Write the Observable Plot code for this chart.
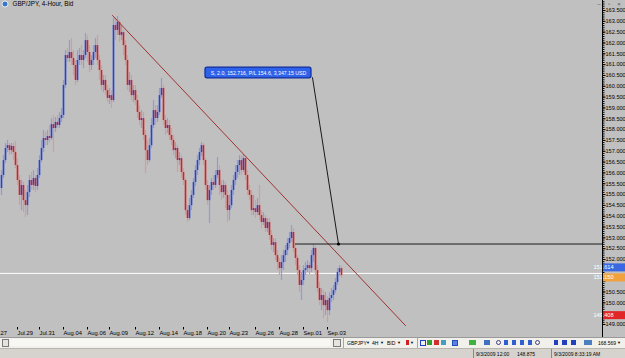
<!DOCTYPE html>
<html><head><meta charset="utf-8">
<script src="https://cdn.jsdelivr.net/npm/d3@7"></script>
<script src="https://cdn.jsdelivr.net/npm/@observablehq/plot@0.6"></script>
<style>
body{margin:0;background:#d4d0c8;font-family:"Liberation Sans",Arial,sans-serif;}
#wrap{position:relative;width:625px;height:358px;overflow:hidden;background:#c0c0c0}
#chart svg{display:block}
.row1{position:absolute;left:0;top:337px;width:625px;height:10px;background:#f1f0ea;border-top:1px solid #9a9a9a;}
.row2{position:absolute;left:0;top:348px;width:625px;height:10px;background:#d6d3ce;border-top:1px solid #b8b5ae;}
.s{position:absolute;font-size:5px;line-height:8px;color:#000;white-space:nowrap}
.a{position:absolute;font-size:4px;line-height:8px;color:#000}
.ic{position:absolute;width:5px;height:5px;top:2px}
.sep{position:absolute;top:0;width:1px;height:10px;background:#a8a6a0}
</style></head><body>
<div id="wrap">
<div id="chart"></div>
<div class="row1">
  <div style="position:absolute;left:2px;top:1px;width:5px;height:6px;border:1px solid #7a7a7a;background:#e4e3de"></div>
  <div style="position:absolute;left:10px;top:1px;width:320px;height:7px;background:#f7f7f4"></div>
  <div style="position:absolute;left:333px;top:1px;width:6px;height:6px;border:1px solid #7a7a7a;background:#e4e3de"></div>
  <div class="sep" style="left:343px"></div>
  <span class="s" style="left:347px;top:1px">GBPJPY</span><span class="a" style="left:366px;top:1px">▼</span>
  <span class="s" style="left:372px;top:1px">4H</span><span class="a" style="left:380px;top:1px">▼</span>
  <span class="s" style="left:387px;top:1px">BID</span><span class="a" style="left:397px;top:1px">▼</span>
  <div class="ic" style="left:406px;background:#d02020;width:3px"></div><span class="a" style="left:410px;top:1px">▼</span>
  <div class="sep" style="left:417px"></div>
  <div class="ic" style="left:420px;border:1px solid #2040c0;width:4px;height:4px"></div>
  <div class="ic" style="left:427px;background:#30a030"></div>
  <div class="ic" style="left:434px;background:#d03030"></div>
  <div class="ic" style="left:441px;background:#40a0c0"></div>
  <div class="ic" style="left:452px;border:1px solid #2050c0;width:4px;height:4px;background:#6080e0"></div>
  <div class="ic" style="left:469px;background:#40b040;width:7px"></div>
  <div class="ic" style="left:484px;background:#4070c0;width:6px"></div>
  <div class="ic" style="left:496px;border:1px solid #404080;border-radius:3px;width:3px;height:3px"></div>
  <div class="ic" style="left:504px;background:#3060d0;width:4px"></div>
  <div class="ic" style="left:512px;background:#3060d0;width:4px"></div>
  <div class="ic" style="left:520px;background:#3060d0;width:4px"></div>
  <div class="ic" style="left:528px;background:#3060d0;width:4px"></div>
  <div class="ic" style="left:535px;border:1px solid #404080;border-radius:3px;width:3px;height:3px"></div>
  <div class="ic" style="left:554px;background:#2040c0;width:4px"></div>
  <div class="ic" style="left:562px;background:#2040c0;width:5px"></div>
  <div class="ic" style="left:571px;background:#2040c0;width:5px"></div>
  <div class="ic" style="left:584px;background:#4a80c0;width:8px"></div>
  <span class="s" style="left:598px;top:1px">168.569</span><span class="a" style="left:617px;top:1px">▼</span>
</div>
<div class="row2">
  <div class="sep" style="left:473px;background:#888"></div>
  <span class="s" style="left:476px;top:1px">9/3/2009 12:00</span>
  <span class="s" style="left:517px;top:1px">148.875</span>
  <div class="sep" style="left:551px;background:#888"></div>
  <span class="s" style="left:554px;top:1px">9/3/2009 8:33:19 AM</span>
</div>
</div>
<script>
// ---- data (GBP/JPY 4-hour candles) ----
const open = [155.28,155.88,156.57,157.13,157.26,157.03,157.22,156.94,156.34,155.65,
154.96,155.42,154.72,154.49,155.09,155.65,155.42,155.74,155.37,155.88,
156.57,157.13,157.59,157.50,157.68,157.59,158.23,158.05,158.33,158.19,
158.51,158.65,160.04,161.42,161.28,161.56,161.28,160.96,160.27,161.19,
161.42,161.19,161.42,162.11,161.56,160.96,161.19,161.56,161.88,161.19,
160.73,160.04,160.27,159.80,159.44,159.57,159.34,162.81,162.58,162.95,
162.35,162.48,161.88,161.19,160.04,160.27,159.57,159.80,159.34,158.79,
158.42,158.51,157.73,157.03,156.57,157.26,158.19,158.88,158.51,158.79,
159.57,159.90,158.42,158.05,158.19,157.73,157.50,157.03,157.13,156.57,
156.66,156.02,155.65,154.26,153.89,154.49,154.96,155.56,156.11,156.57,
156.94,157.26,156.57,155.42,154.72,155.19,155.56,155.42,155.88,156.11,
155.42,155.09,155.42,154.96,154.26,154.49,155.19,155.65,156.02,156.34,
156.57,156.11,156.66,155.88,155.19,154.96,154.26,154.35,154.17,154.49,
154.03,153.71,153.89,153.43,153.71,153.11,152.65,152.78,152.18,151.86,
151.58,151.86,152.18,152.42,152.74,152.97,153.25,152.51,152.05,151.49,
150.80,151.03,151.49,151.58,151.72,151.58,152.18,152.51,151.49,150.66,
150.11,150.34,149.87,150.11,149.64,150.20,150.34,150.57,150.94,151.40,
151.58];
const high = [156.11,156.80,157.36,157.50,157.36,157.36,157.36,157.45,156.66,155.88,
155.65,155.56,155.19,155.42,155.88,156.02,156.11,155.88,156.20,156.80,
157.50,157.96,157.87,157.96,158.19,158.51,158.65,158.56,158.65,158.79,
158.97,160.27,161.65,161.75,162.11,162.21,161.65,161.19,161.65,161.75,
161.88,161.65,162.44,162.35,161.88,161.42,161.88,162.21,162.35,161.42,
160.96,160.50,160.50,160.04,159.90,159.80,163.13,163.18,163.22,163.04,
162.81,162.58,162.11,161.42,160.64,160.50,160.04,160.04,159.57,159.11,
158.88,158.79,157.96,157.50,157.59,158.51,159.34,159.11,159.11,159.90,
160.36,160.04,158.65,158.51,158.42,158.05,157.73,157.40,157.26,156.94,
156.80,156.20,155.74,154.49,154.82,155.19,155.74,156.34,156.80,157.13,
157.40,157.36,156.66,155.65,155.42,155.74,155.88,156.11,156.71,156.34,
155.65,155.65,155.56,155.19,154.96,155.42,155.88,156.34,156.57,156.80,
156.80,156.85,156.76,156.11,155.42,155.19,154.96,154.72,154.82,155.42,
154.26,154.17,154.03,153.89,153.89,153.34,152.97,152.97,152.42,152.05,
152.18,152.42,152.65,152.97,153.25,153.57,153.43,152.65,152.18,151.72,
151.40,151.72,151.86,151.95,151.86,152.42,152.69,152.60,151.72,150.94,
150.66,150.57,150.47,150.29,150.47,150.66,150.80,151.12,151.58,151.72,
151.68];
const low = [154.96,155.74,156.43,156.94,156.80,156.85,156.57,156.20,155.42,154.49,
154.26,154.17,153.94,154.03,154.86,155.19,155.19,155.09,155.19,155.74,
156.48,156.94,157.26,157.26,157.40,157.50,156.94,157.87,158.05,158.05,
158.33,158.51,159.90,161.10,161.10,160.96,160.50,160.04,160.17,160.96,
160.96,160.82,161.28,161.10,160.64,160.73,160.96,161.28,160.96,160.27,
159.80,159.71,159.57,159.25,159.16,158.97,159.25,162.11,162.35,162.02,
162.11,161.42,160.96,159.80,159.71,159.34,159.25,159.11,158.51,158.19,
158.05,157.50,155.97,156.34,156.48,157.13,158.05,158.19,158.33,158.65,
159.44,158.19,157.73,157.82,157.50,157.26,156.80,156.66,156.02,156.34,
155.74,155.42,154.03,153.71,153.80,154.26,154.82,155.37,155.88,156.34,
156.76,156.34,155.19,154.49,153.66,154.96,155.19,155.28,155.74,154.96,
154.72,154.82,154.35,153.71,153.80,154.35,154.96,155.42,155.74,155.88,
155.88,156.02,155.65,154.96,154.72,154.03,154.03,153.89,154.03,153.80,
153.43,153.57,153.25,153.25,152.88,152.42,152.32,151.95,151.49,151.26,
151.03,151.49,151.86,152.18,152.51,152.78,152.32,151.72,151.26,150.47,
150.11,150.80,151.26,151.40,151.31,151.40,151.86,151.26,150.47,149.87,
149.64,149.27,149.41,149.09,149.41,150.01,150.11,150.43,150.80,151.21,
151.12];
const close = [155.88,156.57,157.13,157.26,157.03,157.22,156.94,156.34,155.65,154.96,
155.42,154.72,154.49,155.09,155.65,155.42,155.74,155.37,155.88,156.57,
157.13,157.59,157.50,157.68,157.59,158.23,158.05,158.33,158.19,158.51,
158.65,160.04,161.42,161.28,161.56,161.28,160.96,160.27,161.19,161.42,
161.19,161.42,162.11,161.56,160.96,161.19,161.56,161.88,161.19,160.73,
160.04,160.27,159.80,159.44,159.57,159.34,162.81,162.58,162.95,162.35,
162.48,161.88,161.19,160.04,160.27,159.57,159.80,159.34,158.79,158.42,
158.51,157.73,157.03,156.57,157.26,158.19,158.88,158.51,158.79,159.57,
159.90,158.42,158.05,158.19,157.73,157.50,157.03,157.13,156.57,156.66,
156.02,155.65,154.26,153.89,154.49,154.96,155.56,156.11,156.57,156.94,
157.26,156.57,155.42,154.72,155.19,155.56,155.42,155.88,156.11,155.42,
155.09,155.42,154.96,154.26,154.49,155.19,155.65,156.02,156.34,156.57,
156.11,156.66,155.88,155.19,154.96,154.26,154.35,154.17,154.49,154.03,
153.71,153.89,153.43,153.71,153.11,152.65,152.78,152.18,151.86,151.58,
151.86,152.18,152.42,152.74,152.97,153.25,152.51,152.05,151.49,150.80,
151.03,151.49,151.58,151.72,151.58,152.18,152.51,151.49,150.66,150.11,
150.34,149.87,150.11,149.64,150.20,150.34,150.57,150.94,151.40,151.58,
151.26];

const dateTickPos = [-5, 8, 19, 31, 43, 54, 67, 79, 91, 103, 114, 127, 139, 151, 163];
const dateTickLabels = ["Jul.27","Jul.29","Jul.31","Aug.04","Aug.06","Aug.09","Aug.12","Aug.14","Aug.18","Aug.20","Aug.23","Aug.26","Aug.28","Sep.01","Sep.03"];
const priceTicks = [149,149.5,150,150.5,151,151.5,152,152.5,153,153.5,154,154.5,155,155.5,156,156.5,157,157.5,158,158.5,159,159.5,160,160.5,161,161.5,162,162.5,163,163.5];

const title = "GBP/JPY, 4-Hour, Bid";
const bidLine = 151.36;
const orderPrice = 152.716;
const orderStart = 147;
const trend = [{i: 55.5, p: 163.27}, {i: 202, p: 148.95}];
const connector = [{i: 155.5, p: 160.40}, {i: 168.5, p: 152.716}];
const orderLabel = "S, 2.0, 152.716, P/L 154.6, 3,347.15 USD";
const labelBox = [{i1: 102, i2: 155, p1: 160.37, p2: 160.86}];
const priceTags = [
  {p: 151.614, text: "151.614", bg: "#3a67e2"},
  {p: 151.150, text: "151.150", bg: "#f2a23c"},
  {p: 149.408, text: "149.408", bg: "#e02626"}
];

// ---- build ----
const candles = open.map((o, i) => ({i, o, h: high[i], l: low[i], c: close[i]}));
const up = candles.filter(d => d.c >= d.o);
const dn = candles.filter(d => d.c < d.o);
const bodyEnd = d => Math.abs(d.c - d.o) < 0.04 ? d.o + (d.c >= d.o ? 0.04 : -0.04) : d.c;
const minorTicks = d3.range(149, 163.95, 0.1);

const plot = Plot.plot({
  width: 625, height: 337,
  marginLeft: 0, marginRight: 23, marginTop: 0, marginBottom: 10,
  style: {background: "#c0c0c0", color: "#000", fontFamily: "Liberation Sans, Arial, sans-serif"},
  x: {domain: [-0.5, 300.5], axis: null},
  y: {domain: [148.861, 163.962], axis: null},
  marks: [
    Plot.ruleY([bidLine], {stroke: "#ffffff", strokeWidth: 1}),
    Plot.ruleX(up, {x: "i", y1: "l", y2: "h", stroke: "#8d9be0", strokeWidth: 1.2}),
    Plot.ruleX(dn, {x: "i", y1: "l", y2: "h", stroke: "#d99a9a", strokeWidth: 1.2}),
    Plot.ruleX(up, {x: "i", y1: "o", y2: bodyEnd, stroke: "#2343d8", strokeWidth: 1.6}),
    Plot.ruleX(dn, {x: "i", y1: "o", y2: bodyEnd, stroke: "#d81e1e", strokeWidth: 1.6}),
    Plot.line(trend, {x: "i", y: "p", stroke: "#9e3232", strokeWidth: 1, clip: true}),
    Plot.ruleY([orderPrice], {x1: orderStart, x2: 300.5, stroke: "#1a1a1a", strokeWidth: 1}),
    Plot.line(connector, {x: "i", y: "p", stroke: "#1a1a1a", strokeWidth: 1}),
    Plot.dot([connector[1]], {x: "i", y: "p", r: 1.6, fill: "#000"}),
    Plot.rect(labelBox, {x1: "i1", x2: "i2", y1: "p1", y2: "p2", fill: "#2f62ea", stroke: "#0d2a9a", strokeWidth: 1.2, rx: 2}),
    Plot.text(labelBox, {x: d => (d.i1 + d.i2) / 2, y: d => (d.p1 + d.p2) / 2, text: () => orderLabel, fill: "#fff", fontSize: 5.2}),
    Plot.ruleX([300.5], {stroke: "#000", strokeWidth: 1}),
    Plot.axisY({anchor: "right", ticks: minorTicks, tickSize: 1.5, tickFormat: () => ""}),
    Plot.axisY({anchor: "right", ticks: priceTicks, tickSize: 2.5, tickPadding: 0.5, tickFormat: d3.format(".3f"), fontSize: 5.6}),
    Plot.axisX({anchor: "bottom", ticks: dateTickPos, tickSize: 2.5, tickPadding: 1, fontSize: 5.8,
      textAnchor: "start", tickFormat: d => dateTickLabels[dateTickPos.indexOf(d)]}),
    Plot.text([title], {frameAnchor: "top-left", dx: 12, dy: 1, fontSize: 6.3, fill: "#000"})
  ]
});
document.getElementById("chart").appendChild(plot);

// price tags & decorations placed via the plot's own scales
const ys = plot.scale("y");
const svg = d3.select(plot);
// hide axis labels that sit under a price tag
svg.selectAll("g[aria-label='y-axis tick label'] text").each(function() {
  const tr = this.getAttribute("transform") || "";
  const m = /translate\(([-\d.]+),([-\d.]+)\)/.exec(tr);
  if (m && priceTags.some(p => Math.abs(ys.apply(p.p) - (+m[2])) < 6)) d3.select(this).attr("opacity", 0);
});
const g = svg.append("g");
priceTags.forEach(t => {
  const y = ys.apply(t.p);
  g.append("rect").attr("x", 603).attr("y", y - 4).attr("width", 22).attr("height", 8).attr("fill", t.bg);
  g.append("text").attr("x", 603.5).attr("y", y + 2).attr("font-size", 5.6).attr("fill", "#fff")
    .attr("font-family", "Liberation Sans, Arial, sans-serif").text(t.text);
});
svg.append("line").attr("x1", 602.5).attr("x2", 602.5).attr("y1", 0).attr("y2", 337).attr("stroke", "#000");
// window icon and buttons
svg.append("circle").attr("cx", 5).attr("cy", 4).attr("r", 3).attr("fill", "#3a78c8").attr("stroke", "#fff").attr("stroke-width", 0.8);
[["–", 599], ["▫", 609], ["×", 619]].forEach(([s, x]) =>
  svg.append("text").attr("x", x).attr("y", 6).attr("font-size", 6).attr("fill", "#555").attr("text-anchor", "middle").text(s));
</script>
</body></html>
